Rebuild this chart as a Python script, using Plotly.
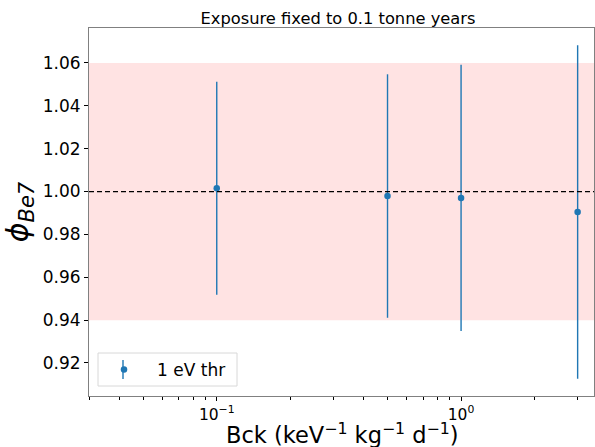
import plotly.graph_objects as go
import numpy as np

bck = [0.1, 0.5, 1.0, 3.0]
phi = [1.0015, 0.9979, 0.9970, 0.9905]
err = [0.0497, 0.0568, 0.0621, 0.0778]
band = [0.94, 1.06]
ref_line = 1.0
x_major = [0.1, 1.0]
x_major_text = ["10<sup>−1</sup>", "10<sup>0</sup>"]
x_minor = [0.03, 0.04, 0.05, 0.06, 0.07, 0.08, 0.09, 0.2, 0.3, 0.4, 0.5, 0.6, 0.7, 0.8, 0.9, 2.0, 3.0]
y_ticks = [0.92, 0.94, 0.96, 0.98, 1.00, 1.02, 1.04, 1.06]

blue = "#1f77b4"
font = "DejaVu Sans"

# plot-area geometry (pixels) used for legend decoration placement
L, R, T, B = 89, 594, 28, 396
W, H = R - L, B - T
def px(x): return (x - L) / W
def py(y): return (B - y) / H

fig = go.Figure()
fig.add_trace(go.Scatter(
    x=bck, y=phi, mode="markers", name="1 eV thr",
    marker=dict(color=blue, size=6.5),
    error_y=dict(type="data", array=err, visible=True, color=blue, thickness=1.4, width=0),
))

fig.add_shape(type="rect", xref="paper", x0=0, x1=1, yref="y", y0=band[0], y1=band[1],
              fillcolor="rgba(255,0,0,0.11)", line=dict(width=0), layer="below")
fig.add_shape(type="line", xref="paper", x0=0, x1=1, yref="y", y0=ref_line, y1=ref_line,
              line=dict(color="black", width=1.3, dash="5px,3px"), layer="above")

# legend frame
fig.add_shape(type="rect", xref="paper", yref="paper", x0=px(98), x1=px(237), y0=py(386), y1=py(353),
              fillcolor="white", line=dict(color="#d8d8d8", width=1), layer="below")
# legend errorbar glyph
fig.add_shape(type="line", xref="paper", yref="paper", x0=px(123), x1=px(123),
              y0=py(379), y1=py(360), line=dict(color=blue, width=1.4), layer="above")

# x-axis title as annotation (precise placement)
fig.add_annotation(text="Bck (keV<sup>−1</sup> kg<sup>−1</sup> d<sup>−1</sup>)",
                   xref="paper", yref="paper", x=px(342), y=py(434),
                   xanchor="center", yanchor="middle", showarrow=False,
                   font=dict(size=22.5, family=font, color="black"))

fig.update_layout(
    width=595, height=447,
    margin=dict(l=L, r=595 - R, t=T, b=447 - B),
    paper_bgcolor="white", plot_bgcolor="white",
    font=dict(family=font, color="black", size=17),
    title=dict(text="Exposure fixed to 0.1 tonne years", x=338 / 595, xanchor="center",
               y=1 - 18 / 447, yanchor="middle", font=dict(size=16.3, family=font)),
    showlegend=True,
    legend=dict(x=px(91), y=py(352), xanchor="left", yanchor="top",
                bgcolor="rgba(0,0,0,0)", borderwidth=0,
                font=dict(size=17, family=font), itemwidth=56),
    xaxis=dict(
        type="log", range=[np.log10(0.03), np.log10(3.5)], automargin=False,
        tickvals=x_major, ticktext=x_major_text,
        ticks="outside", ticklen=4, tickcolor="black", tickwidth=1.2,
        tickfont=dict(size=15.5),
        minor=dict(tickvals=x_minor, ticks="outside", ticklen=3, tickcolor="black", tickwidth=1),
        showgrid=False, zeroline=False,
        showline=True, linecolor="#808080", linewidth=1, mirror=True,
    ),
    yaxis=dict(
        range=[0.9046, 1.0763], automargin=False,
        tickvals=y_ticks, ticktext=[f"{v:.2f}" for v in y_ticks],
        ticks="outside", ticklen=4, tickcolor="black", tickwidth=1.2,
        tickfont=dict(size=17),
        showgrid=False, zeroline=False,
        showline=True, linecolor="#808080", linewidth=1, mirror=True,
        title=dict(text="<i>ϕ</i><sub><i>Be7</i></sub>", font=dict(size=30), standoff=5),
    ),
)

fig.write_html("out.html")
